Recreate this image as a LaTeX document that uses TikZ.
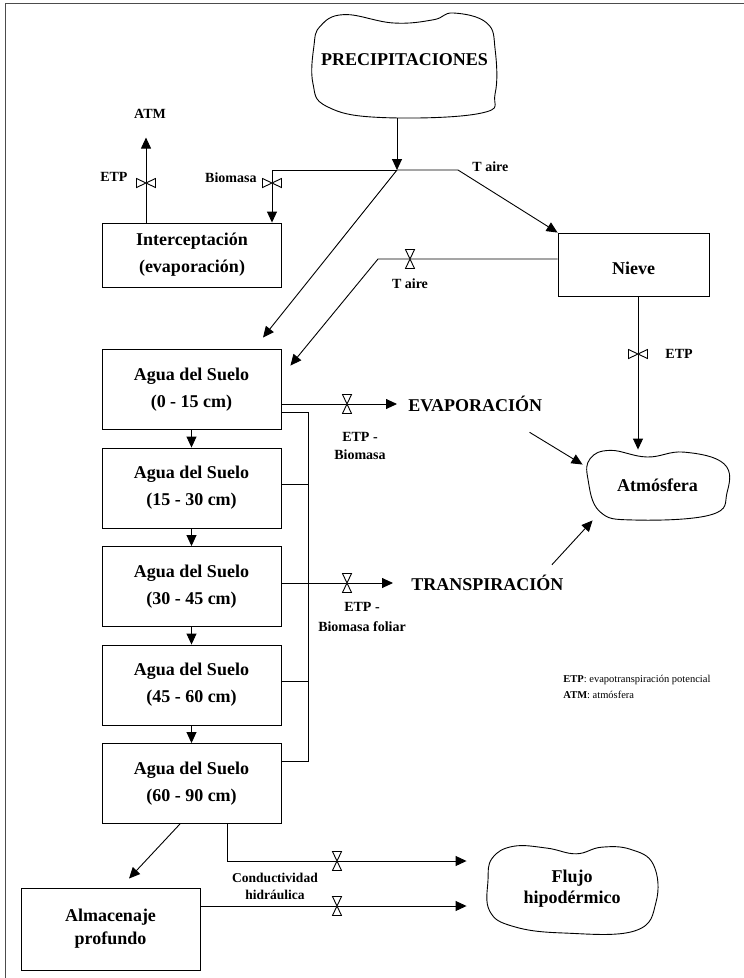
\documentclass[tikz,border=0pt]{standalone}
\usepackage{fontspec}
\setmainfont{Liberation Serif}
\usetikzlibrary{arrows.meta,positioning}

% outline of a cloud round the centre of a node
\newcommand{\drawcloud}[4]{%
  \begin{scope}[shift={(#1)}, x=#2pt, y=#3pt]
    \draw plot[smooth cycle, tension=0.7] coordinates {#4};
  \end{scope}}

\tikzset{
  hvalve/.pic={\draw[fill=white] (-4.5,-9.5) -- (4.5,-9.5) -- (-4.5,9.5) -- (4.5,9.5) -- cycle;},
  vvalve/.pic={\draw[fill=white] (-9.5,-4.5) -- (-9.5,4.5) -- (9.5,-4.5) -- (9.5,4.5) -- cycle;},
}

\begin{document}
\begin{tikzpicture}[x=1pt, y=-1pt, line width=0.9pt,
  box/.style={draw, minimum width=179pt, minimum height=80pt, align=center, inner sep=0pt,
    font=\bfseries\fontsize{18}{27}\selectfont},
  blob/.style={inner sep=0pt, align=center, font=\bfseries\fontsize{18}{21}\selectfont},
  big/.style={inner sep=0pt, font=\bfseries\fontsize{18}{22}\selectfont},
  lbl/.style={inner sep=0pt, align=center, font=\bfseries\fontsize{14}{18}\selectfont},
  legend/.style={inner sep=0pt, anchor=base west, font=\fontsize{10.5}{13}\selectfont},
  flow/.style={-{Triangle[length=11pt,width=10pt]}}]
  \useasboundingbox (0,0) rectangle (744,978);
  \draw[black!70, line width=1pt] (5,990) -- (5,3) -- (760,3);

  % clouds
  \node[blob, minimum width=185pt, minimum height=105pt, text depth=11pt] (prec) at (404.5,65.5) {PRECIPITACIONES};
  \drawcloud{prec.center}{92.5}{52.5}{(-0.91,0.75) (-0.65,0.97) (-0.12,0.81) (0.31,0.87) (0.53,1.0) (0.89,0.81) (0.98,0.3) (0.98,-0.53) (0.82,-0.91) (-0.26,-0.99) (-0.84,-0.78) (-0.99,-0.34) (-0.98,0.36)}
  \node[blob, minimum width=139pt, minimum height=70pt] (atm) at (657.5,485) {Atmósfera};
  \drawcloud{atm.center}{69.5}{35}{(-0.97,0.75) (-0.68,0.99) (-0.15,0.8) (0.38,0.94) (0.96,0.6) (1.0,-0.22) (0.77,-0.85) (-0.34,-1.0) (-0.83,-0.76) (-1.0,0.16)}
  \node[blob, minimum width=168pt, minimum height=88pt] (flujo) at (572,889) {Flujo\\hipodérmico};
  \drawcloud{flujo.center}{84}{44}{(-0.95,0.7) (-0.7,0.97) (-0.3,0.93) (0.05,0.8) (0.35,0.95) (0.7,0.9) (0.97,0.55) (1.0,-0.3) (0.75,-0.95) (-0.1,-1.0) (-0.7,-0.85) (-0.98,-0.5) (-1.0,0.2)}

  % boxes
  \node[box, minimum height=64pt] (intc) at (192,255) {Interceptación\\(evaporación)};
  \node[box, minimum width=151pt, minimum height=63pt, text height=21pt] (nieve) at (633.5,264.5) {Nieve};
  \foreach \i/\lay in {1/0 - 15, 2/15 - 30, 3/30 - 45, 4/45 - 60, 5/60 - 90}
    \node[box] (s\i) at (191.5,291+98.5*\i) {Agua del Suelo\\(\lay\ cm)};
  \node[box, minimum height=82pt, font=\bfseries\fontsize{18}{23}\selectfont] (alm) at (110.5,929) {Almacenaje\\profundo};

  % sinks
  \node[big, anchor=west] (evap) at (408,404) {EVAPORACIÓN};
  \node[big, anchor=west] (trans) at (411,583) {TRANSPIRACIÓN};

  % labels
  \node[lbl] (atmlbl) at (150,114) {ATM};
  \node[lbl, anchor=east] (letp1) at (128,177) {ETP};
  \node[lbl, anchor=east] (lbio) at (257,178) {Biomasa};
  \node[lbl, anchor=west] (taire1) at (472,167) {T aire};
  \node[lbl] (taire2) at (410,284) {T aire};
  \node[lbl, anchor=west] (letp2) at (665,354) {ETP};
  \node[lbl] (letp3) at (360,446) {ETP -\\Biomasa};
  \node[lbl, font=\bfseries\fontsize{14}{20}\selectfont] (letp4) at (362,617) {ETP -\\Biomasa foliar};
  \node[lbl, font=\bfseries\fontsize{13.5}{17}\selectfont] (lcond) at (275,886) {Conductividad\\hidráulica};
  \node[legend] (leg1) at (563,682) {\textbf{ETP}: evapotranspiración potencial};
  \node[legend] (leg2) at (563,698) {\textbf{ATM}: atmósfera};

  % rain split
  \coordinate (j) at (397,170);
  \coordinate (jl) at (272,170);
  \coordinate (jr) at (458,170);
  \coordinate (tb) at (378,259);
  \draw[flow] (j |- prec.south) -- (j);
  \draw[flow] (j) -- (jl) -- (jl |- intc.north);
  \draw[flow] (j) -- (jr) -- (nieve.north west);
  \draw[flow] (j) -- ([xshift=71.5pt,yshift=11.5pt]s1.north);
  \draw[flow] ([yshift=5.5pt]nieve.west) -- (tb) -- ([xshift=9pt,yshift=-16.5pt]s1.north east);
  \draw[flow] ([xshift=-46pt]intc.north) -- ([xshift=-4pt,yshift=-18.5pt]atmlbl.south);
  \draw[flow] ([xshift=4.5pt]nieve.south) -- ([xshift=4.5pt]nieve.south |- atm.north);

  % soil layers
  \foreach \i/\j in {1/2, 2/3, 3/4, 4/5}
    \draw[flow] (s\i.south) -- (s\j.north);
  \draw ([yshift=-22.5pt]s1.east) -- ++(27,0) |- ([yshift=22.5pt]s5.east);
  \foreach \i in {2,4}
    \draw ([yshift=4pt]s\i.east) -- ++(27,0);
  \draw[flow] ([yshift=-14.5pt]s1.east) -- ([xshift=-11pt]evap.west);
  \draw[flow] ([yshift=3.5pt]s3.east) -- ([xshift=-18pt]trans.west);
  \draw[flow] ([xshift=-13pt,yshift=-20pt]evap.south east) -- ([xshift=-5pt,yshift=-15pt]atm.north west);
  \draw[flow] ([xshift=-12pt,yshift=10pt]trans.north east) -- ([xshift=5pt]atm.south west);

  % deep flow
  \draw[flow] ([xshift=-11.5pt]s5.south) -- ([xshift=18.5pt,yshift=9pt]alm.north);
  \draw[flow] ([xshift=35.5pt]s5.south) |- ([xshift=-21pt,yshift=28pt]flujo.west);
  \draw[flow] ([yshift=23pt]alm.east) -- ([xshift=-21pt,yshift=-17pt]flujo.west);

  % valves
  \path (272,183) pic {vvalve};
  \path (146,183) pic {vvalve};
  \path (410,259) pic {hvalve};
  \path (638,354) pic {vvalve};
  \path (347,404) pic {hvalve};
  \path (347,583) pic {hvalve};
  \path (337,861) pic {hvalve};
  \path (337,906) pic {hvalve};
\end{tikzpicture}
\end{document}
